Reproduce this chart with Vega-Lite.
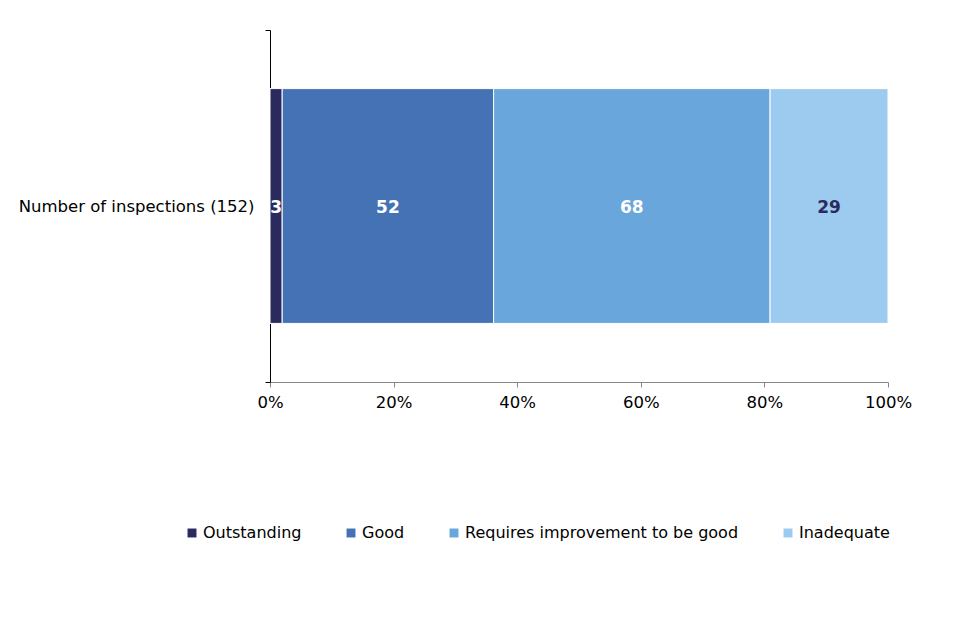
{
  "$schema": "https://vega.github.io/schema/vega-lite/v6.json",
  "autosize": {"type": "none"},
  "padding": {"left": 270, "top": 30, "right": 72, "bottom": 258},
  "width": 618,
  "height": 352,
  "background": "white",
  "config": {
    "font": "DejaVu Sans",
    "view": {"stroke": null}
  },
  "data": {
    "values": [
      {"cat": "Number of inspections (152)", "rating": "Outstanding", "order": 1, "count": 3},
      {"cat": "Number of inspections (152)", "rating": "Good", "order": 2, "count": 52},
      {"cat": "Number of inspections (152)", "rating": "Requires improvement to be good", "order": 3, "count": 68},
      {"cat": "Number of inspections (152)", "rating": "Inadequate", "order": 4, "count": 29}
    ]
  },
  "encoding": {
    "y": {
      "field": "cat",
      "type": "nominal",
      "title": null,
      "scale": {"paddingInner": 0, "paddingOuter": 0},
      "axis": {
        "domainColor": "#000000",
        "tickColor": "#000000",
        "tickBand": "extent",
        "tickSize": 5,
        "labelFontSize": 16.5,
        "labelColor": "#000000",
        "labelPadding": 11,
        "labelLimit": 400
      }
    },
    "x": {
      "field": "count",
      "type": "quantitative",
      "stack": "normalize",
      "title": null,
      "scale": {"domain": [0, 1]},
      "axis": {
        "format": "%",
        "values": [0, 0.2, 0.4, 0.6, 0.8, 1],
        "grid": false,
        "domainColor": "#868686",
        "tickColor": "#868686",
        "tickSize": 5,
        "labelFontSize": 16.5,
        "labelColor": "#000000",
        "labelPadding": 7,
        "labelFlush": false
      }
    },
    "order": {"field": "order", "type": "quantitative"}
  },
  "layer": [
    {
      "mark": {"type": "bar", "height": {"band": 0.667}, "stroke": "white", "strokeWidth": 1},
      "encoding": {
        "color": {
          "field": "rating",
          "type": "nominal",
          "sort": ["Outstanding", "Good", "Requires improvement to be good", "Inadequate"],
          "scale": {
            "domain": ["Outstanding", "Good", "Requires improvement to be good", "Inadequate"],
            "range": ["#2B2A5E", "#4472B4", "#68A6DB", "#9DCBF0"]
          },
          "legend": {
            "title": null,
            "orient": "none",
            "direction": "horizontal",
            "legendX": -86,
            "legendY": 495,
            "symbolType": "square",
            "symbolSize": 80,
            "symbolStrokeWidth": 0,
            "labelFontSize": 16,
            "labelColor": "#000000",
            "labelOffset": 3,
            "columnPadding": 41,
            "labelLimit": 400
          }
        }
      }
    },
    {
      "mark": {"type": "text", "fontSize": 17, "fontWeight": "bold", "dy": 2},
      "encoding": {
        "x": {"field": "count", "type": "quantitative", "stack": "normalize", "bandPosition": 0.5},
        "text": {"field": "count", "type": "quantitative"},
        "color": {
          "condition": {"test": "datum.rating === 'Inadequate'", "value": "#2B2A5E"},
          "value": "#ffffff"
        }
      }
    }
  ]
}
